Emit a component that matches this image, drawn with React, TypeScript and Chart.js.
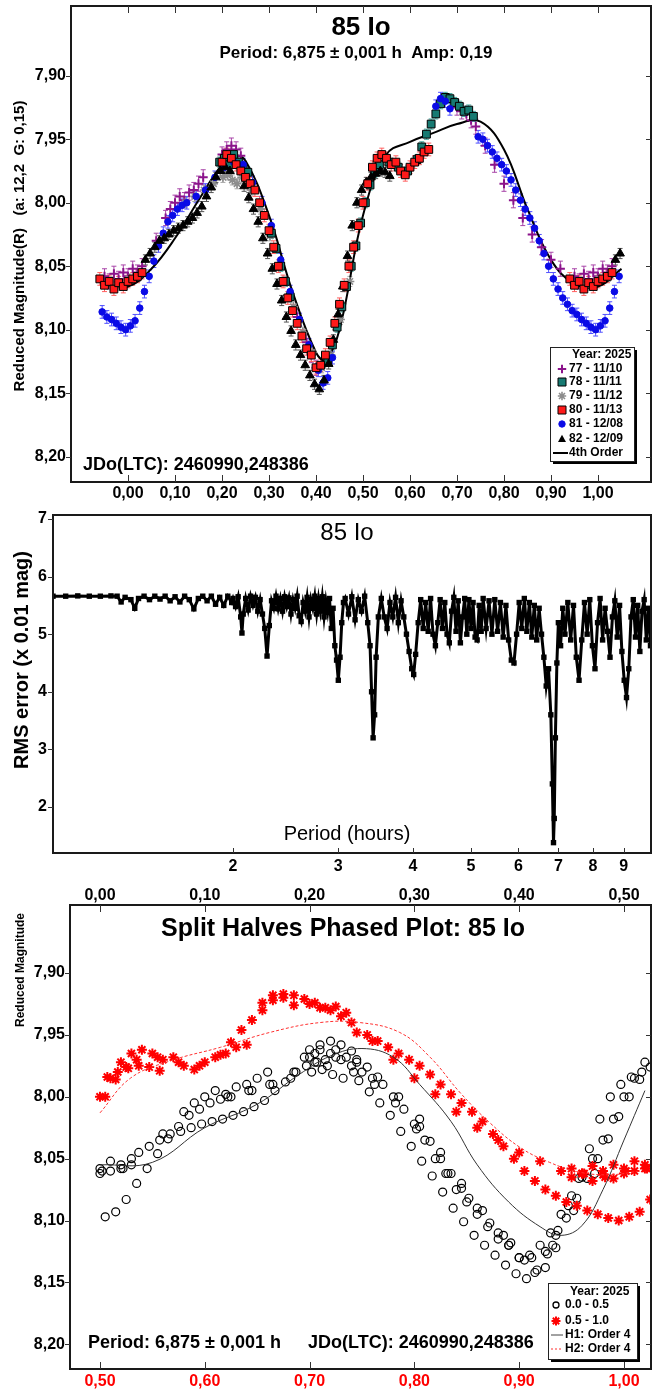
import React, { useEffect, useRef } from 'react';
import { Chart, registerables } from 'chart.js';
Chart.register(...registerables);

const FF = "'Liberation Sans', Arial, Helvetica, sans-serif";

// ---------------- Panel 1: phased light curve ----------------
const phaseTicks = [0, 0.1, 0.2, 0.3, 0.4, 0.5, 0.6, 0.7, 0.8, 0.9, 1.0];
const magTicks = [7.9, 7.95, 8.0, 8.05, 8.1, 8.15, 8.2];

const s77Phase = [-0.05, -0.04, -0.03, -0.02, -0.01, 0.0, 0.01, 0.02, 0.03, 0.06, 0.08, 0.09, 0.1, 0.11, 0.12, 0.13, 0.14, 0.15, 0.16, 0.2, 0.21, 0.22, 0.23, 0.24, 0.36, 0.38, 0.39, 0.4, 0.7, 0.71, 0.72, 0.73, 0.74, 0.76, 0.78, 0.8, 0.82, 0.84, 0.86, 0.88, 0.9, 0.92, 0.95, 0.96, 0.97, 0.98, 0.99, 1.0, 1.01, 1.02, 1.03];
const s77Mag = [8.058, 8.062, 8.056, 8.06, 8.055, 8.058, 8.052, 8.055, 8.05, 8.03, 8.012, 8.005, 8.0, 7.995, 7.998, 7.992, 7.99, 7.985, 7.98, 7.962, 7.958, 7.955, 7.958, 7.963, 8.09, 8.11, 8.12, 8.13, 7.925, 7.928, 7.93, 7.935, 7.94, 7.955, 7.97, 7.985, 7.998, 8.012, 8.025, 8.035, 8.045, 8.052, 8.058, 8.062, 8.056, 8.06, 8.055, 8.058, 8.052, 8.055, 8.05];

const s78Phase = [0.195, 0.205, 0.215, 0.225, 0.235, 0.245, 0.255, 0.305, 0.315, 0.325, 0.335, 0.345, 0.425, 0.435, 0.445, 0.455, 0.465, 0.475, 0.485, 0.495, 0.505, 0.515, 0.525, 0.535, 0.555, 0.575, 0.595, 0.615, 0.625, 0.635, 0.645, 0.655, 0.665, 0.675, 0.685, 0.695, 0.705, 0.715, 0.725, 0.735];
const s78Mag = [7.968, 7.965, 7.97, 7.962, 7.968, 7.972, 7.976, 8.024, 8.036, 8.05, 8.062, 8.074, 8.125, 8.112, 8.098, 8.082, 8.066, 8.05, 8.034, 8.016, 8.0, 7.986, 7.976, 7.97, 7.968, 7.972, 7.975, 7.966, 7.956, 7.946, 7.938, 7.93, 7.922, 7.917, 7.918, 7.921, 7.924, 7.928, 7.927, 7.932];

const s79Phase = [-0.038, -0.018, 0.002, 0.022, 0.122, 0.142, 0.162, 0.182, 0.202, 0.212, 0.222, 0.232, 0.242, 0.262, 0.282, 0.302, 0.332, 0.352, 0.372, 0.392, 0.412, 0.432, 0.452, 0.472, 0.962, 0.982, 1.002, 1.022];
const s79Mag = [8.062, 8.065, 8.06, 8.058, 8.0, 7.995, 7.99, 7.985, 7.98, 7.978, 7.982, 7.985, 7.98, 7.99, 8.005, 8.026, 8.062, 8.082, 8.102, 8.118, 8.13, 8.12, 8.092, 8.062, 8.062, 8.065, 8.06, 8.058];

const s80Phase = [-0.06, -0.05, -0.04, -0.03, -0.02, -0.01, 0.0, 0.01, 0.02, 0.03,
  0.2, 0.21, 0.22, 0.23, 0.24, 0.25, 0.26, 0.27, 0.28, 0.29, 0.3, 0.31, 0.32, 0.33, 0.34, 0.35, 0.36, 0.37, 0.38, 0.39, 0.4, 0.41, 0.42, 0.43, 0.44, 0.45, 0.46, 0.47, 0.48, 0.49, 0.5, 0.51, 0.52, 0.53, 0.54, 0.55, 0.56, 0.57, 0.58, 0.59, 0.6, 0.61, 0.62, 0.63, 0.64,
  0.94, 0.95, 0.96, 0.97, 0.98, 0.99, 1.0, 1.01, 1.02, 1.03];
const s80Mag = [8.06, 8.065, 8.062, 8.068, 8.063, 8.066, 8.062, 8.06, 8.058, 8.055,
  7.968, 7.962, 7.965, 7.97, 7.975, 7.98, 7.985, 7.99, 8.0, 8.01, 8.022, 8.035, 8.05, 8.062, 8.075, 8.085, 8.095, 8.105, 8.115, 8.12, 8.13, 8.128, 8.12, 8.11, 8.095, 8.08, 8.065, 8.05, 8.035, 8.018, 8.0, 7.985, 7.972, 7.965, 7.962, 7.965, 7.97, 7.968, 7.975, 7.978, 7.972, 7.968, 7.965, 7.96, 7.958,
  8.06, 8.065, 8.062, 8.068, 8.063, 8.066, 8.062, 8.06, 8.058, 8.055];

const s81Phase = [-0.055, -0.045, -0.035, -0.025, -0.015, -0.005, 0.005, 0.015, 0.025, 0.035, 0.045, 0.055, 0.065, 0.075, 0.085, 0.095, 0.105, 0.115, 0.125,
  0.145, 0.165, 0.185, 0.205, 0.225, 0.245, 0.265, 0.285, 0.305, 0.325, 0.345, 0.365, 0.385, 0.405, 0.415, 0.425, 0.435,
  0.655, 0.665, 0.675, 0.685,
  0.745, 0.755, 0.765, 0.775, 0.785, 0.795, 0.805, 0.815, 0.825, 0.835, 0.845, 0.855, 0.865, 0.875, 0.885, 0.895, 0.905, 0.915, 0.925, 0.935, 0.945, 0.955, 0.965, 0.975, 0.985, 0.995,
  1.005, 1.015, 1.025, 1.035, 1.045];
const s81Mag = [8.086, 8.09, 8.092, 8.095, 8.098, 8.1, 8.097, 8.093, 8.083, 8.07, 8.058, 8.046, 8.034, 8.024, 8.015, 8.01, 8.005, 8.002, 8.0,
  7.995, 7.99, 7.98, 7.972, 7.968, 7.97, 7.984, 8.0, 8.018, 8.045, 8.07, 8.092, 8.112, 8.132, 8.142, 8.138, 8.122,
  7.924, 7.918, 7.92, 7.926,
  7.948, 7.95, 7.955, 7.96, 7.965, 7.97, 7.975, 7.982, 7.99, 7.998, 8.005, 8.012, 8.02, 8.03, 8.04, 8.05, 8.06, 8.068, 8.075, 8.08, 8.085, 8.088, 8.092, 8.095, 8.098, 8.1,
  8.097, 8.093, 8.083, 8.07, 8.058];

const s82Phase = [0.037, 0.047, 0.057, 0.067, 0.077, 0.087, 0.097, 0.107, 0.117, 0.127, 0.137, 0.147, 0.157, 0.167, 0.177, 0.187, 0.197, 0.207, 0.217,
  0.247, 0.257, 0.267, 0.277, 0.287, 0.297, 0.307, 0.317, 0.327, 0.337, 0.347, 0.357, 0.367, 0.377, 0.387, 0.397, 0.407, 0.417, 0.427, 0.437, 0.447, 0.457, 0.467, 0.477, 0.487, 0.497, 0.507, 0.517, 0.527, 0.537, 0.547, 0.557,
  1.037, 1.047];
const s82Mag = [8.045, 8.04, 8.035, 8.03, 8.028, 8.025, 8.022, 8.02, 8.018, 8.015, 8.012, 8.008, 8.003, 7.995, 7.988, 7.98, 7.975, 7.972, 7.975,
  7.987, 7.996, 8.005, 8.015, 8.028, 8.04, 8.052, 8.064, 8.077, 8.09, 8.101, 8.112, 8.12, 8.128, 8.136, 8.143, 8.147, 8.14, 8.127, 8.108, 8.088, 8.066, 8.042, 8.018, 8.0, 7.99, 7.984, 7.98, 7.977, 7.975, 7.976, 7.979,
  8.045, 8.04];

const fitPhase = [-0.06, -0.05, 0.0, 0.05, 0.1, 0.15, 0.2, 0.225, 0.25, 0.3, 0.35, 0.4, 0.42, 0.45, 0.5, 0.55, 0.6, 0.65, 0.7, 0.75, 0.8, 0.85, 0.9, 0.95, 1.0, 1.05];
const fitMag = [8.062, 8.064, 8.066, 8.052, 8.028, 7.998, 7.97, 7.963, 7.967, 8.01, 8.07, 8.118, 8.124, 8.1, 8.01, 7.962, 7.952, 7.945, 7.938, 7.936, 7.958, 8.005, 8.045, 8.064, 8.066, 8.052];

const sessionLabels = ['77 - 11/10', '78 - 11/11', '79 - 11/12', '80 - 11/13', '81 - 12/08', '82 - 12/09'];
const sessionPhases = [s77Phase, s78Phase, s79Phase, s80Phase, s81Phase, s82Phase];
const sessionMags = [s77Mag, s78Mag, s79Mag, s80Mag, s81Mag, s82Mag];
const sessionErrs = [0.006, 0.004, 0.004, 0.005, 0.005, 0.004];

// ---------------- Panel 2: period spectrum ----------------
const periodTicks = [2, 3, 4, 5, 6, 7, 8, 9];
const rmsTicks = [2, 3, 4, 5, 6, 7];
const rmsPeriodA = [1.0, 1.05, 1.1, 1.15, 1.2, 1.25, 1.28, 1.3, 1.32, 1.35, 1.37, 1.39, 1.42, 1.45, 1.48, 1.51, 1.54, 1.57, 1.6, 1.63, 1.66, 1.69, 1.72, 1.75, 1.78, 1.81, 1.84, 1.87, 1.9, 1.93, 1.96, 1.99];
const rmsA = [5.66, 5.66, 5.665, 5.66, 5.66, 5.665, 5.66, 5.56, 5.64, 5.6, 5.45, 5.62, 5.66, 5.6, 5.66, 5.61, 5.66, 5.58, 5.65, 5.56, 5.66, 5.6, 5.44, 5.62, 5.66, 5.58, 5.66, 5.52, 5.64, 5.5, 5.66, 5.55];
const rmsPeriodB = [2.0, 2.02, 2.04, 2.06, 2.07, 2.08, 2.1, 2.12, 2.14, 2.16, 2.18, 2.2, 2.22, 2.24, 2.26, 2.28, 2.3, 2.32, 2.34, 2.36, 2.38, 2.4, 2.42, 2.44, 2.46, 2.48, 2.5, 2.52, 2.54, 2.56, 2.58, 2.6, 2.62, 2.64, 2.66, 2.68, 2.7, 2.72, 2.74, 2.76, 2.78, 2.8, 2.82, 2.84, 2.86, 2.88, 2.9, 2.92, 2.94, 2.96, 2.98, 3.0, 3.02, 3.04, 3.06];
const rmsB = [5.62, 5.48, 5.65, 5.3, 5.02, 5.35, 5.62, 5.42, 5.66, 5.5, 5.64, 5.4, 5.6, 5.35, 5.1, 4.62, 5.15, 5.58, 5.45, 5.66, 5.44, 5.62, 5.4, 5.65, 5.48, 5.63, 5.35, 5.6, 5.45, 5.66, 5.32, 5.22, 5.55, 5.4, 5.64, 5.3, 5.6, 5.45, 5.66, 5.35, 5.62, 5.4, 5.65, 5.3, 5.58, 5.38, 5.62, 5.1, 5.45, 4.8, 4.55, 4.2, 4.6, 5.2, 5.55];
const rmsPeriodC = [3.08, 3.12, 3.16, 3.2, 3.24, 3.28, 3.32, 3.36, 3.39, 3.41, 3.43, 3.45, 3.47, 3.5, 3.54, 3.58, 3.62, 3.66, 3.7, 3.74, 3.78, 3.82, 3.86, 3.9, 3.94, 3.98, 4.01, 4.04, 4.08, 4.12, 4.16, 4.2, 4.24, 4.28, 4.32, 4.36, 4.4, 4.44, 4.48, 4.52, 4.56, 4.6, 4.64, 4.68, 4.72, 4.76, 4.8, 4.84, 4.88, 4.92, 4.96, 5.0];
const rmsC = [5.62, 5.35, 5.65, 5.25, 5.6, 5.4, 5.66, 5.2, 4.8, 4.0, 3.2, 3.6, 4.6, 5.3, 5.62, 5.3, 5.1, 5.55, 5.3, 5.64, 5.2, 5.58, 5.3, 5.0, 4.7, 4.4, 4.3, 4.65, 5.2, 5.6, 5.1, 5.55, 5.05, 5.62, 5.0, 4.8, 5.2, 5.6, 5.1, 5.55, 5.0, 4.85, 5.4, 5.64, 5.05, 5.58, 4.85, 5.3, 5.62, 5.0, 5.6, 5.1];
const rmsPeriodD = [5.04, 5.08, 5.12, 5.16, 5.2, 5.24, 5.3, 5.36, 5.42, 5.48, 5.54, 5.6, 5.66, 5.72, 5.78, 5.84, 5.9, 5.96, 6.02, 6.08, 6.14, 6.2, 6.26, 6.32, 6.38, 6.44, 6.5, 6.56, 6.62, 6.68, 6.74, 6.8, 6.84, 6.87, 6.89, 6.92, 6.96, 7.0, 7.06, 7.12,
  7.18, 7.26, 7.34, 7.42, 7.5, 7.58, 7.66, 7.74, 7.82, 7.9, 7.98, 8.06, 8.14, 8.22, 8.3, 8.38, 8.46, 8.54, 8.62, 8.7, 8.78, 8.86, 8.94, 9.02, 9.1, 9.18, 9.26, 9.34, 9.42, 9.5, 9.58, 9.66, 9.74, 9.82, 9.9, 9.98];
const rmsD = [5.55, 4.95, 4.9, 5.5, 5.05, 5.62, 5.1, 5.58, 5.0, 5.6, 5.05, 5.55, 4.95, 5.5, 4.9, 4.55, 4.5, 5.0, 5.55, 5.1, 5.62, 5.05, 5.55, 4.95, 5.5, 4.9, 5.45, 5.0, 4.6, 4.1, 4.4, 3.6, 2.4, 1.38, 1.8, 3.2, 4.5, 5.2, 4.8, 5.45,
  5.0, 5.55, 4.9, 5.5, 4.6, 4.2, 4.9, 5.55, 5.0, 5.6, 4.8, 4.4, 5.2, 5.62, 4.9, 5.45, 5.05, 4.6, 5.3, 5.58, 4.95, 5.5, 4.7, 4.2, 3.9, 4.4, 5.3, 5.6, 4.95, 5.5, 4.7, 5.4, 5.6, 4.9, 5.45, 4.8];

// ---------------- Panel 3: split halves ----------------
const halfTopTicks = [0, 0.1, 0.2, 0.3, 0.4, 0.5];
const halfBottomTicks = [0.5, 0.6, 0.7, 0.8, 0.9, 1.0];
const h1Phase = [0.0, 0.05, 0.1, 0.15, 0.19, 0.22, 0.25, 0.28, 0.305, 0.335, 0.36, 0.39, 0.42, 0.44, 0.46, 0.48, 0.5, 0.52];
const h1Mag = [8.055, 8.053, 8.025, 8.006, 7.982, 7.967, 7.961, 7.968, 7.99, 8.02, 8.055, 8.085, 8.105, 8.112, 8.104, 8.075, 8.035, 7.995];
const h2Phase = [0.5, 0.529, 0.567, 0.615, 0.662, 0.71, 0.748, 0.786, 0.815, 0.844, 0.872, 0.901, 0.929, 0.958, 0.987, 1.015];
const h2Mag = [8.013, 7.985, 7.971, 7.96, 7.948, 7.94, 7.94, 7.948, 7.968, 7.997, 8.021, 8.041, 8.053, 8.061, 8.063, 8.06];

// ---------------- helpers ----------------
const comma2 = (v: number) => Number(v).toFixed(2).replace('.', ',');
const pts = (xs: number[], ys: number[]) => xs.map((x, i) => ({ x, y: ys[i] }));

type MarkKind = 'cross' | 'rect' | 'star' | 'circle' | 'triangle';
const sessionLook: { kind: MarkKind; r: number; fill: string; stroke: string; lw: number; err: string }[] = [
  { kind: 'cross', r: 4.5, fill: '#8b138b', stroke: '#8b138b', lw: 2, err: '#a845a8' },
  { kind: 'rect', r: 5.5, fill: '#177a72', stroke: '#000', lw: 1, err: '#3aa59b' },
  { kind: 'star', r: 4.5, fill: '#8c8c8c', stroke: '#8c8c8c', lw: 1.6, err: '#a8a8a8' },
  { kind: 'rect', r: 5.5, fill: '#ff1a1a', stroke: '#000', lw: 1, err: '#ff6060' },
  { kind: 'circle', r: 3.3, fill: '#0a0ae6', stroke: '#0a0ae6', lw: 1, err: '#5050ff' },
  { kind: 'triangle', r: 5, fill: '#000', stroke: '#000', lw: 1, err: '#555' },
];
const drawOrder = [6, 4, 5, 1, 3, 2];

function mark(ctx: CanvasRenderingContext2D, kind: string, x: number, y: number, r: number, fill: string, stroke: string, lw: number) {
  ctx.save();
  ctx.lineWidth = lw; ctx.strokeStyle = stroke; ctx.fillStyle = fill;
  ctx.beginPath();
  if (kind === 'cross') {
    ctx.moveTo(x - r, y); ctx.lineTo(x + r, y); ctx.moveTo(x, y - r); ctx.lineTo(x, y + r); ctx.stroke();
  } else if (kind === 'star') {
    for (let k = 0; k < 4; k++) {
      const a = (k * Math.PI) / 4;
      ctx.moveTo(x - r * Math.cos(a), y - r * Math.sin(a)); ctx.lineTo(x + r * Math.cos(a), y + r * Math.sin(a));
    }
    ctx.stroke();
  } else if (kind === 'rect') {
    ctx.rect(x - r, y - r, 2 * r, 2 * r); ctx.fill(); ctx.stroke();
  } else if (kind === 'circle') {
    ctx.arc(x, y, r, 0, Math.PI * 2); ctx.fill(); ctx.stroke();
  } else if (kind === 'triangle') {
    ctx.moveTo(x, y - r); ctx.lineTo(x + r * 0.95, y + r * 0.7); ctx.lineTo(x - r * 0.95, y + r * 0.7); ctx.closePath(); ctx.fill();
  }
  ctx.restore();
}

function text(ctx: CanvasRenderingContext2D, s: string, x: number, y: number, font: string, align: CanvasTextAlign = 'center', color = '#000', rot = 0) {
  ctx.save();
  ctx.font = font; ctx.fillStyle = color; ctx.textAlign = align; ctx.textBaseline = 'middle';
  ctx.translate(x, y); if (rot) ctx.rotate(rot);
  ctx.fillText(s, 0, 0);
  ctx.restore();
}

function frame(chart: any) {
  const { ctx, chartArea: a } = chart;
  ctx.save(); ctx.strokeStyle = '#1a1a1a'; ctx.lineWidth = 2;
  ctx.strokeRect(a.left, a.top, a.right - a.left, a.bottom - a.top);
  ctx.restore();
}

function tickMarks(chart: any, id: string, side: string, len: number) {
  const s = chart.scales[id]; const a = chart.chartArea; const ctx = chart.ctx as CanvasRenderingContext2D;
  ctx.save(); ctx.strokeStyle = '#333'; ctx.lineWidth = 1;
  s.ticks.forEach((t: any) => {
    const p = Math.round(s.getPixelForValue(t.value)) + 0.5;
    ctx.beginPath();
    if (side === 'bottom') { ctx.moveTo(p, a.bottom); ctx.lineTo(p, a.bottom - len); }
    else if (side === 'top') { ctx.moveTo(p, a.top); ctx.lineTo(p, a.top + len); }
    else if (side === 'left') { ctx.moveTo(a.left, p); ctx.lineTo(a.left - len, p); }
    else { ctx.moveTo(a.right, p); ctx.lineTo(a.right - len, p); }
    ctx.stroke();
  });
  ctx.restore();
}

function legendBox(ctx: CanvasRenderingContext2D, x0: number, y0: number, x1: number, y1: number) {
  ctx.save();
  ctx.fillStyle = '#000';
  ctx.fillRect(x0 + 3, y0 + 3, x1 - x0, y1 - y0);
  ctx.fillStyle = '#fff';
  ctx.fillRect(x0, y0, x1 - x0, y1 - y0);
  ctx.strokeStyle = '#222'; ctx.lineWidth = 1;
  ctx.strokeRect(x0 + 0.5, y0 + 0.5, x1 - x0, y1 - y0);
  ctx.restore();
}

const tickFont = (size: number) => ({ family: FF, size, weight: 'bold' as const });
const noGrid = { display: false, drawTicks: false };
const fixTicks = (vals: number[]) => (s: any) => { s.ticks = vals.map((v) => ({ value: v })); };
const fitBox = (dim: 'w' | 'h', size: number) => (s: any) => {
  if (dim === 'w') s.width = size; else s.height = size;
  s.paddingTop = 0; s.paddingBottom = 0; s.paddingLeft = 0; s.paddingRight = 0;
};

export default function App() {
  const c1 = useRef<HTMLCanvasElement>(null);
  const c2 = useRef<HTMLCanvasElement>(null);
  const c3 = useRef<HTMLCanvasElement>(null);

  useEffect(() => {
    const charts: Chart[] = [];

    // ---------- chart 1 ----------
    const sessionSets = sessionLabels.map((lab, i) => {
      const L = sessionLook[i];
      return {
        label: lab,
        data: pts(sessionPhases[i], sessionMags[i]),
        pointStyle: L.kind,
        pointRadius: L.r,
        pointBackgroundColor: L.fill,
        pointBorderColor: L.stroke,
        pointBorderWidth: L.lw,
        showLine: false,
        order: drawOrder[i],
        errVal: sessionErrs[i],
        errColor: L.err,
      } as any;
    });
    const fitSet: any = {
      label: '4th Order', data: pts(fitPhase, fitMag), showLine: true, borderColor: '#000', borderWidth: 2,
      pointRadius: 0, tension: 0.4, order: 10,
    };

    const errorBars = {
      id: 'errorBars',
      beforeDatasetsDraw(chart: any) {
        const { ctx, chartArea: a } = chart; const xs = chart.scales.x; const ys = chart.scales.y;
        ctx.save(); ctx.beginPath(); ctx.rect(a.left, a.top, a.right - a.left, a.bottom - a.top); ctx.clip();
        ctx.lineWidth = 1;
        chart.data.datasets.forEach((ds: any) => {
          if (!ds.errVal) return;
          ctx.strokeStyle = ds.errColor;
          ds.data.forEach((d: any) => {
            const px = xs.getPixelForValue(d.x);
            const pt = ys.getPixelForValue(d.y - ds.errVal);
            const pb = ys.getPixelForValue(d.y + ds.errVal);
            ctx.beginPath();
            ctx.moveTo(px, pt); ctx.lineTo(px, pb);
            ctx.moveTo(px - 2.5, pt); ctx.lineTo(px + 2.5, pt);
            ctx.moveTo(px - 2.5, pb); ctx.lineTo(px + 2.5, pb);
            ctx.stroke();
          });
        });
        ctx.restore();
      },
    };

    const decor1 = {
      id: 'decor1',
      afterDraw(chart: any) {
        const ctx = chart.ctx as CanvasRenderingContext2D;
        frame(chart);
        tickMarks(chart, 'x', 'bottom', 7); tickMarks(chart, 'x', 'top', 7);
        tickMarks(chart, 'y', 'left', 5); tickMarks(chart, 'y', 'right', 5);
        text(ctx, '85 Io', 361, 28, `bold 26px ${FF}`);
        text(ctx, 'Period: 6,875 ± 0,001 h  Amp: 0,19', 356, 53, `bold 17px ${FF}`);
        text(ctx, 'JDo(LTC): 2460990,248386', 83, 465, `bold 18px ${FF}`, 'left');
        text(ctx, 'Reduced Magnitude(R)   (a: 12,2  G: 0,15)', 20, 246, `bold 15px ${FF}`, 'center', '#000', -Math.PI / 2);
        legendBox(ctx, 550, 347, 634, 461);
        const lf = `bold 12px ${FF}`;
        text(ctx, 'Year: 2025', 572, 355, lf, 'left');
        const rows = [369, 382, 396, 410, 424, 439];
        sessionLabels.forEach((lab, i) => {
          const L = sessionLook[i];
          const r = L.kind === 'rect' ? 4 : L.kind === 'circle' ? 3.2 : 4.2;
          mark(ctx, L.kind, 562, rows[i], r, L.fill, L.stroke, L.lw);
          text(ctx, lab, 569, rows[i], lf, 'left');
        });
        ctx.save(); ctx.strokeStyle = '#000'; ctx.lineWidth = 2;
        ctx.beginPath(); ctx.moveTo(553, 453); ctx.lineTo(568, 453); ctx.stroke(); ctx.restore();
        text(ctx, '4th Order', 569, 453, lf, 'left');
      },
    };

    if (c1.current) {
      charts.push(new Chart(c1.current, {
        type: 'scatter',
        data: { datasets: [...sessionSets, fitSet] },
        options: {
          animation: false, responsive: false, maintainAspectRatio: false, devicePixelRatio: 1, events: [],
          layout: { autoPadding: false, padding: { top: 6, right: 1, left: 0, bottom: 0 } },
          plugins: { legend: { display: false }, tooltip: { enabled: false } },
          scales: {
            x: {
              type: 'linear', position: 'bottom', min: -0.1213, max: 1.1128,
              afterFit: fitBox('h', 23),
              afterBuildTicks: fixTicks(phaseTicks),
              ticks: { callback: (v: any) => comma2(v), font: tickFont(16), color: '#000', padding: 2, maxRotation: 0, autoSkip: false },
              grid: noGrid, border: { display: false },
            },
            y: {
              type: 'linear', reverse: true, min: 7.845, max: 8.22,
              afterFit: fitBox('w', 71),
              afterBuildTicks: fixTicks(magTicks),
              ticks: { callback: (v: any) => comma2(v), font: tickFont(16), color: '#000', padding: 5, autoSkip: false },
              grid: noGrid, border: { display: false },
            },
          },
        } as any,
        plugins: [errorBars, decor1],
      }));
    }

    // ---------- chart 2 ----------
    const rmsPeriods = [...rmsPeriodA, ...rmsPeriodB, ...rmsPeriodC, ...rmsPeriodD];
    const rmsValues = [...rmsA, ...rmsB, ...rmsC, ...rmsD];
    const decor2 = {
      id: 'decor2',
      afterDraw(chart: any) {
        const ctx = chart.ctx as CanvasRenderingContext2D;
        frame(chart);
        tickMarks(chart, 'x', 'bottom', 5);
        tickMarks(chart, 'y', 'left', 5);
        text(ctx, '85 Io', 347, 28, `24px ${FF}`);
        text(ctx, 'Period (hours)', 347, 329, `20px ${FF}`);
        text(ctx, 'RMS error (x 0.01 mag)', 22, 155, `bold 20px ${FF}`, 'center', '#000', -Math.PI / 2);
      },
    };
    if (c2.current) {
      charts.push(new Chart(c2.current, {
        type: 'scatter',
        data: {
          datasets: [{
            label: 'RMS', data: pts(rmsPeriods, rmsValues), showLine: true, borderColor: '#000', borderWidth: 3,
            pointRadius: 1.7, pointStyle: 'rect', pointBackgroundColor: '#000', pointBorderColor: '#000', tension: 0,
          } as any],
        },
        options: {
          animation: false, responsive: false, maintainAspectRatio: false, devicePixelRatio: 1, events: [],
          layout: { autoPadding: false, padding: { top: 10, right: 1, left: 0, bottom: 0 } },
          plugins: { legend: { display: false }, tooltip: { enabled: false } },
          scales: {
            x: {
              type: 'logarithmic', position: 'bottom', min: 1.0, max: 10.0,
              afterFit: fitBox('h', 27),
              afterBuildTicks: fixTicks(periodTicks),
              ticks: { callback: (v: any) => String(v), font: tickFont(16), color: '#000', padding: 4, maxRotation: 0, autoSkip: false },
              grid: noGrid, border: { display: false },
            },
            y: {
              type: 'linear', min: 1.2, max: 7.07,
              afterFit: fitBox('w', 53),
              afterBuildTicks: fixTicks(rmsTicks),
              ticks: { callback: (v: any) => String(v), font: tickFont(16), color: '#000', padding: 6, autoSkip: false },
              grid: noGrid, border: { display: false },
            },
          },
        } as any,
        plugins: [decor2],
      }));
    }

    // ---------- chart 3 ----------
    const allPts = sessionPhases.flatMap((ph, i) => pts(ph, sessionMags[i]));
    const firstHalf = allPts.filter((d) => d.x >= 0 && d.x <= 0.525);
    const secondHalf = allPts.filter((d) => d.x >= 0.5 && d.x <= 1.025);
    const decor3 = {
      id: 'decor3',
      afterDraw(chart: any) {
        const ctx = chart.ctx as CanvasRenderingContext2D;
        frame(chart);
        tickMarks(chart, 'xt', 'top', 7); tickMarks(chart, 'xb', 'bottom', 7);
        tickMarks(chart, 'y', 'left', 5); tickMarks(chart, 'y', 'right', 5);
        text(ctx, 'Split Halves Phased Plot: 85 Io', 343, 49, `bold 25px ${FF}`);
        text(ctx, 'Period: 6,875 ± 0,001 h', 88, 463, `bold 18px ${FF}`, 'left');
        text(ctx, 'JDo(LTC): 2460990,248386', 308, 463, `bold 18px ${FF}`, 'left');
        text(ctx, 'Reduced Magnitude', 21, 33, `bold 12px ${FF}`, 'right', '#000', -Math.PI / 2);
        legendBox(ctx, 548, 403, 637, 479);
        const lf = `bold 12px ${FF}`;
        text(ctx, 'Year: 2025', 570, 412, lf, 'left');
        mark(ctx, 'circle', 556, 425, 3, '#fff', '#000', 1.3);
        text(ctx, '0.0 - 0.5', 565, 425, lf, 'left');
        mark(ctx, 'star', 556, 441, 4.5, '#f00', '#f00', 2);
        text(ctx, '0.5 - 1.0', 565, 441, lf, 'left');
        ctx.save();
        ctx.strokeStyle = '#444'; ctx.lineWidth = 1;
        ctx.beginPath(); ctx.moveTo(551, 455); ctx.lineTo(563, 455); ctx.stroke();
        ctx.strokeStyle = '#ff3030'; ctx.setLineDash([2, 2]);
        ctx.beginPath(); ctx.moveTo(551, 469); ctx.lineTo(563, 469); ctx.stroke();
        ctx.restore();
        text(ctx, 'H1: Order 4', 565, 455, lf, 'left');
        text(ctx, 'H2: Order 4', 565, 469, lf, 'left');
      },
    };
    if (c3.current) {
      charts.push(new Chart(c3.current, {
        type: 'scatter',
        data: {
          datasets: [
            { label: 'H1', data: pts(h1Phase, h1Mag), xAxisID: 'xt', showLine: true, borderColor: '#333', borderWidth: 1, pointRadius: 0, tension: 0.4, order: 1 } as any,
            { label: 'H2', data: pts(h2Phase, h2Mag), xAxisID: 'xb', showLine: true, borderColor: '#ff3030', borderWidth: 1, borderDash: [3, 2], pointRadius: 0, tension: 0.4, order: 2 } as any,
            { label: '0.0 - 0.5', data: firstHalf, xAxisID: 'xt', pointStyle: 'circle', pointRadius: 4, pointBackgroundColor: 'rgba(255,255,255,0)', pointBorderColor: '#000', pointBorderWidth: 1.2, order: 4 } as any,
            { label: '0.5 - 1.0', data: secondHalf, xAxisID: 'xb', pointStyle: 'star', pointRadius: 5, pointBorderColor: '#ff0000', pointBackgroundColor: '#ff0000', pointBorderWidth: 2, order: 3 } as any,
          ],
        },
        options: {
          animation: false, responsive: false, maintainAspectRatio: false, devicePixelRatio: 1, events: [],
          layout: { autoPadding: false, padding: { top: 0, right: 1, left: 0, bottom: 0 } },
          plugins: { legend: { display: false }, tooltip: { enabled: false } },
          scales: {
            xt: {
              type: 'linear', position: 'top', min: -0.0286, max: 0.5258,
              afterFit: fitBox('h', 25),
              afterBuildTicks: fixTicks(halfTopTicks),
              ticks: { callback: (v: any) => comma2(v), font: tickFont(16), color: '#000', padding: 0, maxRotation: 0, autoSkip: false },
              grid: noGrid, border: { display: false },
            },
            xb: {
              type: 'linear', position: 'bottom', min: 0.4714, max: 1.0258,
              afterFit: fitBox('h', 22),
              afterBuildTicks: fixTicks(halfBottomTicks),
              ticks: { callback: (v: any) => comma2(v), font: tickFont(16), color: '#ff0000', padding: 3, maxRotation: 0, autoSkip: false },
              grid: noGrid, border: { display: false },
            },
            y: {
              type: 'linear', reverse: true, min: 7.845, max: 8.22,
              afterFit: fitBox('w', 70),
              afterBuildTicks: fixTicks(magTicks),
              ticks: { callback: (v: any) => comma2(v), font: tickFont(16), color: '#000', padding: 5, autoSkip: false },
              grid: noGrid, border: { display: false },
            },
          },
        } as any,
        plugins: [decor3],
      }));
    }

    return () => { charts.forEach((c) => c.destroy()); };
  }, []);

  const cs = (top: number, h: number): React.CSSProperties => ({ position: 'absolute', left: 0, top, width: 652, height: h, display: 'block' });
  return (
    <div style={{ position: 'absolute', left: 0, top: 0, width: 652, height: 1391, background: '#fff', overflow: 'hidden' }}>
      <canvas ref={c1} width={652} height={505} style={cs(0, 505)} />
      <canvas ref={c2} width={652} height={375} style={cs(505, 375)} />
      <canvas ref={c3} width={652} height={511} style={cs(880, 511)} />
    </div>
  );
}
